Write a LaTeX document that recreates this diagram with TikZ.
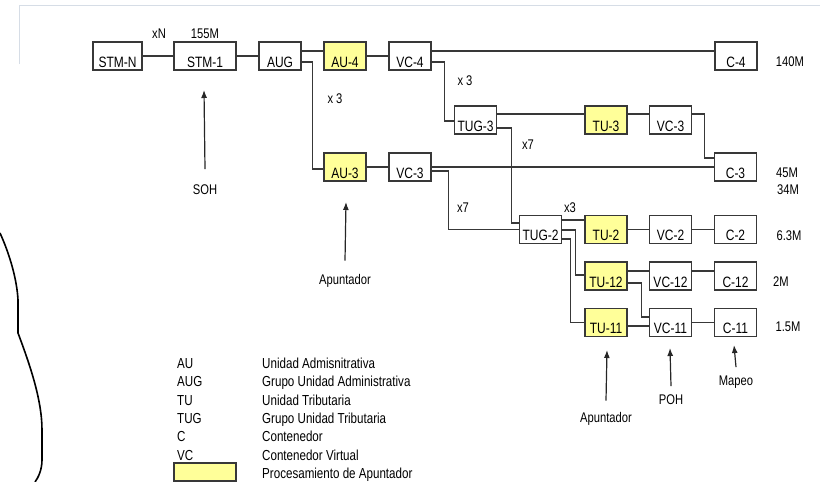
\documentclass[tikz,border=0pt]{standalone}
\usepackage{fontspec}
\setmainfont{Liberation Sans}[FakeStretch=0.8]
\usetikzlibrary{arrows.meta}

\definecolor{apunt}{RGB}{255,255,153}
\definecolor{linegray}{RGB}{56,56,56}
\definecolor{framegray}{RGB}{214,221,230}

\tikzset{
  blk/.style={draw=linegray, line width=1.3pt, minimum width=42pt, minimum height=28pt,
    inner xsep=2pt, inner ysep=0pt, text height=22pt, text depth=0pt,
    font=\fontsize{15}{17}\selectfont},
  blky/.style={blk, fill=apunt},
  wire/.style={draw=linegray, line width=1.3pt},
  lbl/.style={anchor=base, inner sep=0pt, font=\fontsize{14}{16}\selectfont},
  keytxt/.style={anchor=base west, inner sep=0pt, font=\fontsize{14.5}{16}\selectfont},
  ptr/.style={draw=black!85, line width=1.2pt, -{Latex[length=8pt,width=6pt]}}
}

\begin{document}
\begin{tikzpicture}[x=1pt, y=-1pt]
  \useasboundingbox (0,0) rectangle (820,482);

  % Frame and margin curve
  \draw[framegray, line width=0.8pt] (19,64) -- (19,5) -- (820,5);
  \draw[black, line width=1.6pt] (0,233) .. controls (10,255) and (17,280) .. (18,300)
    -- (18,333) .. controls (30,365) and (42,400) .. (42,430)
    -- (42,460) .. controls (42,470) and (38,478) .. (35,482);

  % Top row
  \node[blk, minimum width=49pt] (stmn) at (117.5,56) {STM-N};
  \node[blk, minimum width=62pt] (stm1) at (205,56) {STM-1};
  \node[blk] (aug) at (280,56) {AUG};
  \node[blky] (au4) at (345,56) {AU-4};
  \node[blk] (vc4) at (410,56) {VC-4};
  \node[blk] (c4) at (736,56) {C-4};

  % TUG-3 row
  \node[blk] (tug3) at (475.5,120) {TUG-3};
  \node[blky] (tu3) at (606,120) {TU-3};
  \node[blk] (vc3a) at (670.5,120) {VC-3};

  % AU-3 row
  \node[blky] (au3) at (345,167) {AU-3};
  \node[blk] (vc3b) at (410,167) {VC-3};
  \node[blk] (c3) at (735.5,167) {C-3};

  % TUG-2 rows
  \node[blk] (tug2) at (540.5,229.5) {TUG-2};
  \node[blky] (tu2) at (606,229.5) {TU-2};
  \node[blk] (vc2) at (670.5,229.5) {VC-2};
  \node[blk] (c2) at (735.5,229.5) {C-2};
  \node[blky] (tu12) at (606,276) {TU-12};
  \node[blk] (vc12) at (670.5,276) {VC-12};
  \node[blk] (c12) at (735.5,276) {C-12};
  \node[blky] (tu11) at (606,322.5) {TU-11};
  \node[blk] (vc11) at (670.5,322.5) {VC-11};
  \node[blk] (c11) at (735.5,322.5) {C-11};

  % Wires, top row
  \draw[wire] (stmn) -- (stm1);
  \draw[wire] (stm1) -- (aug);
  \draw[wire] ([yshift=5pt]aug.east) -- ([yshift=5pt]au4.west);
  \draw[wire] (au4) -- (vc4);
  \draw[wire] ([yshift=5pt]vc4.east) -- ([yshift=5pt]c4.west);
  \draw[wire] ([yshift=-6pt]aug.east) -- ++(11,0) |- ([yshift=-2pt]au3.west);
  \draw[wire] ([yshift=-6pt]vc4.east) -- ++(13,0) |- ([yshift=-1pt]tug3.west);

  % Wires, TUG-3 and AU-3
  \draw[wire] ([yshift=6pt]tug3.east) -- ([yshift=6pt]tu3.west);
  \draw[wire] ([yshift=6pt]tu3.east) -- ([yshift=6pt]vc3a.west);
  \draw[wire] ([yshift=6pt]vc3a.east) -- ++(12,0) |- ([yshift=9pt]c3.west);
  \draw[wire] ([yshift=-8pt]tug3.east) -- ++(14,0) |- ([yshift=6.5pt]tug2.west);
  \draw[wire] (au3) -- (vc3b);
  \draw[wire] (vc3b) -- (c3);
  \draw[wire] ([yshift=-4pt]vc3b.east) -- ++(17,0) |- (tug2.west);

  % Wires, TUG-2
  \draw[wire] ([yshift=9.5pt]tug2.east) -- ([yshift=9.5pt]tu2.west);
  \draw[wire] ([yshift=-0.5pt]tug2.east) -- ++(13,0) |- ([yshift=1pt]tu12.west);
  \draw[wire] ([yshift=-9.5pt]tug2.east) -- ++(8,0) |- (tu11.west);
  \draw[wire] (tu2) -- (vc2);
  \draw[wire] (vc2) -- (c2);
  \draw[wire] ([yshift=5pt]tu12.east) -- ([yshift=5pt]vc12.west);
  \draw[wire] ([yshift=5pt]vc12.east) -- ([yshift=5pt]c12.west);
  \draw[wire] ([yshift=-7pt]tu12.east) -- ++(14,0) |- ([yshift=5.5pt]vc11.west);
  \draw[wire] ([yshift=-3.5pt]tu11.east) -- ([yshift=-3.5pt]vc11.west);
  \draw[wire] (vc11) -- (c11);

  % Multiplex labels
  \node[lbl] (xn) at (159,38.3) {xN};
  \node[lbl] (r155) at (205,38.3) {155M};
  \node[lbl] (xthreea) at (335,103) {x 3};
  \node[lbl] (xthreeb) at (465,85) {x 3};
  \node[lbl] (xsevena) at (528,149) {x7};
  \node[lbl] (xsevenb) at (463,212) {x7};
  \node[lbl] (xthreec) at (570,212) {x3};

  % Rates
  \node[lbl] (r140) at (790,66.5) {140M};
  \node[lbl] (r45) at (787,177.5) {45M};
  \node[lbl] (r34) at (788,194.3) {34M};
  \node[lbl] (r63) at (789,240) {6.3M};
  \node[lbl] (r2) at (781,286) {2M};
  \node[lbl] (r15) at (788,331.7) {1.5M};

  % Pointer arrows
  \node[lbl] (soh) at (205,194) {SOH};
  \node[lbl] (apa) at (345,284) {Apuntador};
  \node[lbl] (apb) at (606,422) {Apuntador};
  \node[lbl] (poh) at (671,404) {POH};
  \node[lbl] (mapeo) at (736,385) {Mapeo};
  \coordinate (sohtip) at (204,90);
  \coordinate (apatip) at (346,202);
  \coordinate (apbtip) at (607,350);
  \coordinate (pohtip) at (670,348);
  \coordinate (mapeotip) at (734,345);
  \draw[ptr] ([yshift=15pt]soh.north) -- (sohtip);
  \draw[ptr] ([yshift=13pt]apa.north) -- (apatip);
  \draw[ptr] ([yshift=11pt]apb.north) -- (apbtip);
  \draw[ptr] ([yshift=8pt]poh.north) -- (pohtip);
  \draw[ptr] ([yshift=8pt]mapeo.north) -- (mapeotip);

  % Legend
  \node[keytxt] (kau) at (177,368.5) {AU};
  \node[keytxt] (kaug) at (177,386.8) {AUG};
  \node[keytxt] (ktu) at (177,405.1) {TU};
  \node[keytxt] (ktug) at (177,423.4) {TUG};
  \node[keytxt] (kc) at (177,441.7) {C};
  \node[keytxt] (kvc) at (177,460) {VC};
  \node[keytxt] (dau) at (262,368.5) {Unidad Admisnitrativa};
  \node[keytxt] (daug) at (262,386.8) {Grupo Unidad Administrativa};
  \node[keytxt] (dtu) at (262,405.1) {Unidad Tributaria};
  \node[keytxt] (dtug) at (262,423.4) {Grupo Unidad Tributaria};
  \node[keytxt] (dc) at (262,441.7) {Contenedor};
  \node[keytxt] (dvc) at (262,460) {Contenedor Virtual};
  \node[keytxt] (dap) at (262,478) {Procesamiento de Apuntador};
  \draw[draw=linegray, line width=1.1pt, fill=apunt] (174,463) rectangle (236,481);
\end{tikzpicture}
\end{document}
